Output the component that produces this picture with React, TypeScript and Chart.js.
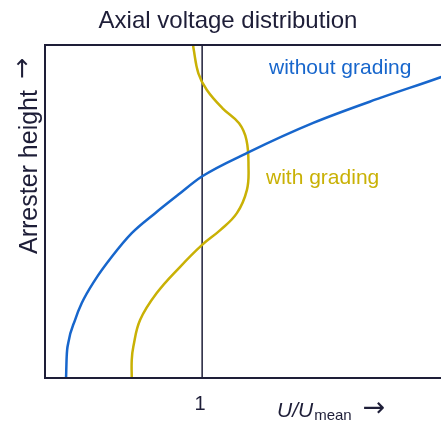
import React, { useEffect, useRef } from "react";
import { Chart, registerables } from "chart.js";

Chart.register(...registerables);

// Blue curve: without grading (x = U/Umean, y = relative arrester height)
const withoutGradingX = [0.134, 0.138, 0.148, 0.191, 0.234, 0.318, 0.425, 0.552, 0.701, 0.847, 0.998, 1.287, 1.707, 2.134, 2.522, 2.6];
const withoutGradingY = [0.0, 0.064, 0.105, 0.174, 0.225, 0.294, 0.364, 0.435, 0.495, 0.55, 0.605, 0.676, 0.766, 0.841, 0.904, 0.918];

// Yellow curve: with grading
const withGradingX = [0.552, 0.552, 0.562, 0.605, 0.711, 0.86, 0.998, 1.115, 1.221, 1.285, 1.295, 1.282, 1.235, 1.13, 1.03, 0.976, 0.945, 0.943];
const withGradingY = [0.0, 0.054, 0.094, 0.174, 0.255, 0.334, 0.399, 0.444, 0.495, 0.565, 0.635, 0.715, 0.765, 0.81, 0.865, 0.915, 0.99, 1.0];

const xTicks = [1];
const xMin = 0;
const xMax = 2.52;
const yMin = 0;
const yMax = 1;

const TITLE = "Axial voltage distribution";
const Y_TITLE = "Arrester height";
const X_TITLE_MAIN = "U/U";
const X_TITLE_SUB = "mean";
const ARROW = "\u2192";
const LABEL_WITHOUT = "without grading";
const LABEL_WITH = "with grading";

const BLUE = "#1766cc";
const YELLOW = "#c9b105";
const INK = "#1e1e38";
const FONT = "'Liberation Sans', Arial, sans-serif";
const ARROW_FONT = "'DejaVu Sans', sans-serif";

const toPoints = (xs: number[], ys: number[]) => xs.map((x, i) => ({ x, y: ys[i] }));

export default function App() {
  const ref = useRef<HTMLCanvasElement | null>(null);

  useEffect(() => {
    if (!ref.current) return;

    const decor = {
      id: "decor",
      beforeDatasetsDraw(chart: any) {
        const { ctx, chartArea, scales } = chart;
        ctx.save();
        ctx.strokeStyle = INK;
        ctx.lineWidth = 1.5;
        xTicks.forEach((t) => {
          const px = scales.x.getPixelForValue(t);
          ctx.beginPath();
          ctx.moveTo(px, chartArea.top);
          ctx.lineTo(px, chartArea.bottom);
          ctx.stroke();
        });
        ctx.restore();
      },
      afterDraw(chart: any) {
        const { ctx, chartArea, scales } = chart;
        ctx.save();
        // frame: left, top, bottom
        ctx.strokeStyle = INK;
        ctx.lineWidth = 2;
        ctx.beginPath();
        ctx.moveTo(chartArea.right + 2, chartArea.top);
        ctx.lineTo(chartArea.left, chartArea.top);
        ctx.lineTo(chartArea.left, chartArea.bottom);
        ctx.lineTo(chartArea.right + 2, chartArea.bottom);
        ctx.stroke();

        // title
        ctx.fillStyle = INK;
        ctx.font = `24px ${FONT}`;
        ctx.textAlign = "center";
        ctx.textBaseline = "alphabetic";
        ctx.fillText(TITLE, 228, 28);

        // tick labels
        ctx.font = `20px ${FONT}`;
        xTicks.forEach((t) => {
          const px = scales.x.getPixelForValue(t);
          ctx.fillText(String(t), px - 2, chartArea.bottom + 32);
        });

        // x title: U/U_mean ->
        ctx.textAlign = "left";
        let x = 277;
        const base = chartArea.bottom + 39;
        ctx.font = `italic 21px ${FONT}`;
        ctx.fillText(X_TITLE_MAIN, x, base);
        x += ctx.measureText(X_TITLE_MAIN).width + 1;
        ctx.font = `15px ${FONT}`;
        ctx.fillText(X_TITLE_SUB, x, base + 3);
        ctx.font = `27px ${ARROW_FONT}`;
        ctx.textAlign = "center";
        ctx.textBaseline = "middle";
        ctx.fillText(ARROW, 374, base - 8);
        ctx.textBaseline = "alphabetic";

        // y title rotated
        ctx.save();
        ctx.translate(37, 254);
        ctx.rotate(-Math.PI / 2);
        ctx.font = `25px ${FONT}`;
        ctx.textAlign = "left";
        ctx.fillText(Y_TITLE, 0, 0);
        ctx.font = `25px ${ARROW_FONT}`;
        ctx.textAlign = "center";
        ctx.textBaseline = "middle";
        ctx.fillText(ARROW, 185.5, -13.5);
        ctx.restore();

        // curve labels
        ctx.font = `21px ${FONT}`;
        ctx.textAlign = "left";
        ctx.textBaseline = "alphabetic";
        ctx.fillStyle = BLUE;
        ctx.fillText(LABEL_WITHOUT, 269, 74);
        ctx.fillStyle = YELLOW;
        ctx.fillText(LABEL_WITH, 266, 184);
        ctx.restore();
      },
    };

    const chart = new Chart(ref.current, {
      type: "scatter",
      data: {
        datasets: [
          {
            label: LABEL_WITHOUT,
            data: toPoints(withoutGradingX, withoutGradingY),
            showLine: true,
            borderColor: BLUE,
            borderWidth: 2.5,
            pointRadius: 0,
            cubicInterpolationMode: "monotone",
          },
          {
            label: LABEL_WITH,
            data: toPoints(withGradingX, withGradingY),
            showLine: true,
            borderColor: YELLOW,
            borderWidth: 2.5,
            pointRadius: 0,
            tension: 0.4,
          },
        ],
      },
      options: {
        animation: false,
        responsive: false,
        devicePixelRatio: 1,
        layout: { padding: { left: 45, top: 45, right: 0, bottom: 43 } },
        plugins: { legend: { display: false }, tooltip: { enabled: false }, title: { display: false } },
        scales: {
          x: { type: "linear", min: xMin, max: xMax, display: false },
          y: { type: "linear", min: yMin, max: yMax, display: false },
        },
      },
      plugins: [decor],
    });
    return () => chart.destroy();
  }, []);

  return (
    <div style={{ position: "fixed", left: 0, top: 0, width: 441, height: 421, background: "#fff" }}>
      <canvas ref={ref} width={441} height={421} style={{ display: "block" }} />
    </div>
  );
}
